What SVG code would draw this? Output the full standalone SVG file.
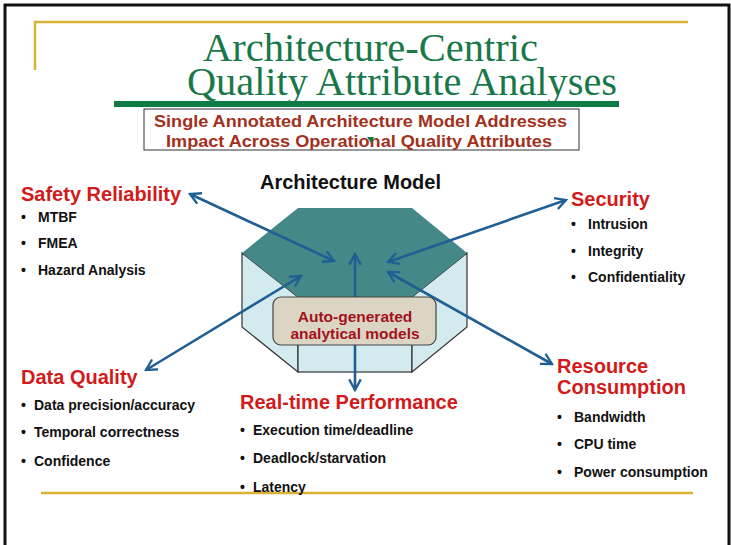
<svg xmlns="http://www.w3.org/2000/svg" width="731" height="545" viewBox="0 0 731 545">
<defs>
<style>
.title{font-family:"Liberation Serif","DejaVu Serif",serif;fill:#17784a;font-size:40px}
.sub{font-family:"Liberation Sans",Arial,sans-serif;font-weight:bold;fill:#a3301c;font-size:17px}
.head{font-family:"Liberation Sans",Arial,sans-serif;font-weight:bold;fill:#d21a1a;font-size:20px}
.item{font-family:"Liberation Sans",Arial,sans-serif;font-weight:bold;fill:#111;font-size:14px}
.model{font-family:"Liberation Sans",Arial,sans-serif;font-weight:bold;fill:#111;font-size:19.5px}
.lbl{font-family:"Liberation Sans",Arial,sans-serif;font-weight:bold;fill:#a3121c;font-size:15.5px}
.face{fill:#d3eaee;stroke:#333;stroke-width:1.2}
.conn{stroke:#1f5f94;stroke-width:2.6;fill:none}
.gold{stroke:#d9b234;stroke-width:2.5;fill:none}
</style>
<marker id="ah" viewBox="0 0 14 14" refX="12" refY="7" markerWidth="5.2" markerHeight="5.2" orient="auto-start-reverse" markerUnits="strokeWidth">
<path d="M1,1 L12,7 L1,13" fill="none" stroke="#1f5f94" stroke-width="2.4"/>
</marker>
</defs>
<rect x="0" y="0" width="731" height="545" fill="#fff"/>
<path d="M5,548 V5 H729 V548" fill="none" stroke="#111" stroke-width="3"/>
<path class="gold" d="M35,70 V22 H688"/>
<path class="gold" d="M41,493 H693"/>

<g id="title">
<text class="title"><tspan x="203" y="61" textLength="335" lengthAdjust="spacingAndGlyphs">Architecture-Centric</tspan><tspan x="187" y="95" textLength="430" lengthAdjust="spacingAndGlyphs">Quality Attribute Analyses</tspan></text>
<rect x="114" y="101" width="505" height="6" fill="#0e7a45"/>
</g>

<g id="subtitle">
<rect x="144" y="109" width="435" height="41" fill="#fff" stroke="#333" stroke-width="1"/>
<text class="sub" x="154" y="127" textLength="413" lengthAdjust="spacingAndGlyphs">Single Annotated Architecture Model Addresses</text>
<text class="sub" x="166" y="147" textLength="386" lengthAdjust="spacingAndGlyphs">Impact Across Operational Quality Attributes</text>
<polygon points="367,137 374,137 371,143" fill="#0e7a45"/>
</g>

<g id="architecture-model">
<text class="model" x="260" y="189" textLength="181" lengthAdjust="spacingAndGlyphs">Architecture Model</text>
<polygon class="face" points="242,253 298,297 298,372 242,327"/>
<rect class="face" x="298" y="297" width="114" height="75"/>
<polygon class="face" points="412,297 467,253 467,327 412,372"/>
<polygon points="298,208 412,208 467,253 412,297 298,297 242,253" fill="#448888"/>
</g>

<g id="connectors">
<line class="conn" x1="190" y1="194" x2="334" y2="261" marker-start="url(#ah)" marker-end="url(#ah)"/>
<line class="conn" x1="566" y1="200" x2="388" y2="262" marker-start="url(#ah)" marker-end="url(#ah)"/>
<line class="conn" x1="146" y1="370" x2="301" y2="276" marker-start="url(#ah)" marker-end="url(#ah)"/>
<line class="conn" x1="552" y1="364" x2="388" y2="272" marker-start="url(#ah)" marker-end="url(#ah)"/>
<line class="conn" x1="355" y1="254" x2="355" y2="390" marker-start="url(#ah)" marker-end="url(#ah)"/>
</g>

<g id="auto-generated">
<rect x="273" y="297" width="163" height="48" rx="8" fill="#ddd5c3" stroke="#444" stroke-width="1.2"/>
<text class="lbl" x="355" y="322" text-anchor="middle">Auto-generated</text>
<text class="lbl" x="355" y="339" text-anchor="middle">analytical models</text>
</g>

<g id="safety">
<text class="head" x="21" y="201">Safety Reliability</text>
<text class="item" x="21" y="222">•</text><text class="item" x="38" y="222">MTBF</text>
<text class="item" x="21" y="248">•</text><text class="item" x="38" y="248">FMEA</text>
<text class="item" x="21" y="275">•</text><text class="item" x="38" y="275">Hazard Analysis</text>
</g>

<g id="security">
<text class="head" x="571" y="206">Security</text>
<text class="item" x="571" y="229">•</text><text class="item" x="588" y="229">Intrusion</text>
<text class="item" x="571" y="256">•</text><text class="item" x="588" y="256">Integrity</text>
<text class="item" x="571" y="282">•</text><text class="item" x="588" y="282">Confidentiality</text>
</g>

<g id="data-quality">
<text class="head" x="21" y="384">Data Quality</text>
<text class="item" x="21" y="410">•</text><text class="item" x="34" y="410">Data precision/accuracy</text>
<text class="item" x="21" y="437">•</text><text class="item" x="34" y="437">Temporal correctness</text>
<text class="item" x="21" y="466">•</text><text class="item" x="34" y="466">Confidence</text>
</g>

<g id="real-time">
<text class="head" x="240" y="409">Real-time Performance</text>
<text class="item" x="240" y="435">•</text><text class="item" x="253" y="435">Execution time/deadline</text>
<text class="item" x="240" y="463">•</text><text class="item" x="253" y="463">Deadlock/starvation</text>
<text class="item" x="240" y="492">•</text><text class="item" x="253" y="492">Latency</text>
</g>

<g id="resource">
<text class="head" x="557" y="373">Resource</text>
<text class="head" x="557" y="394">Consumption</text>
<text class="item" x="557" y="422">•</text><text class="item" x="574" y="422">Bandwidth</text>
<text class="item" x="557" y="449">•</text><text class="item" x="574" y="449">CPU time</text>
<text class="item" x="557" y="477">•</text><text class="item" x="574" y="477">Power consumption</text>
</g>
</svg>
